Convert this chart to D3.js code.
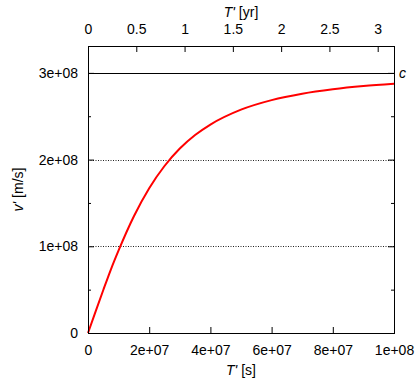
<!DOCTYPE html>
<html>
<head>
<meta charset="utf-8">
<script src="https://cdn.jsdelivr.net/npm/d3@7"></script>
<style>
  html, body { margin: 0; padding: 0; background: #fff; }
  text { font-family: "Liberation Sans", Arial, sans-serif; font-size: 14px; fill: #000; }
</style>
</head>
<body>
<div id="chart"></div>
<script>
// proper time T' [s] and velocity v' [m/s]
const tSec = [0, 0.25e7, 0.5e7, 0.75e7, 1e7, 1.5e7, 2e7, 2.5e7, 3e7, 3.5e7, 4e7, 5e7, 6e7, 7e7, 8e7, 9e7, 1e8];
const vel  = [0, 0.250e8, 0.496e8, 0.735e8, 0.953e8, 1.347e8, 1.670e8, 1.926e8, 2.127e8, 2.283e8, 2.404e8, 2.576e8, 2.686e8, 2.760e8, 2.811e8, 2.848e8, 2.875e8];
const cLight = 3e8;
const yearSec = 3.15576e7;

const xTicks = [0, 2e7, 4e7, 6e7, 8e7, 1e8];
const xTickLabels = ['0', '2e+07', '4e+07', '6e+07', '8e+07', '1e+08'];
const yrTicks = [0, 0.5, 1, 1.5, 2, 2.5, 3];
const yTicks = [0, 1e8, 2e8, 3e8];
const yTickLabels = ['0', '1e+08', '2e+08', '3e+08'];
const yMinor = [0.5e8, 1.5e8, 2.5e8];

const W = 417, H = 381;
const margin = { top: 46, right: 23, bottom: 48, left: 88 };
const width = W - margin.left - margin.right;
const height = H - margin.top - margin.bottom;

const svg = d3.select('#chart').append('svg')
    .attr('width', W)
    .attr('height', H);

const g = svg.append('g')
    .attr('transform', `translate(${margin.left},${margin.top})`);

const x = d3.scaleLinear().domain([0, 1e8]).range([0, width]);
const y = d3.scaleLinear().domain([0, 3.31e8]).range([height, 0]);
const xYr = d3.scaleLinear().domain([0, 1e8 / yearSec]).range([0, width]);

// dotted grid lines for y ticks
g.selectAll('.grid')
    .data(yTicks.filter(d => d > 0 && d < cLight))
    .enter().append('line')
    .attr('x1', 0).attr('x2', width)
    .attr('y1', d => Math.round(y(d)) + 0.5)
    .attr('y2', d => Math.round(y(d)) + 0.5)
    .attr('stroke', '#222')
    .attr('stroke-width', 1)
    .attr('stroke-dasharray', '1,1.5');

// speed of light line
g.append('line')
    .attr('x1', 0).attr('x2', width)
    .attr('y1', Math.round(y(cLight)) + 0.5)
    .attr('y2', Math.round(y(cLight)) + 0.5)
    .attr('stroke', '#000')
    .attr('stroke-width', 1);

g.append('text')
    .attr('x', width + 5)
    .attr('y', y(cLight) + 5)
    .style('font-style', 'italic')
    .text('c');

// curve
const line = d3.line()
    .x((d, i) => x(tSec[i]))
    .y(d => y(d))
    .curve(d3.curveMonotoneX);

g.append('path')
    .datum(vel)
    .attr('d', line)
    .attr('fill', 'none')
    .attr('stroke', '#ff0000')
    .attr('stroke-width', 2);

// bottom axis
const xAxis = d3.axisBottom(x)
    .tickValues(xTicks)
    .tickFormat((d, i) => xTickLabels[i])
    .tickSize(-6)
    .tickPadding(12);
const gx = g.append('g')
    .attr('transform', `translate(0,${height})`)
    .call(xAxis);

// top axis (years)
const x2Axis = d3.axisTop(xYr)
    .tickValues(yrTicks)
    .tickFormat(d3.format('~g'))
    .tickSize(-6)
    .tickPadding(12);
const gx2 = g.append('g')
    .call(x2Axis);

// left axis
const yAxis = d3.axisLeft(y)
    .tickValues(yTicks)
    .tickFormat((d, i) => yTickLabels[i])
    .tickSize(-6)
    .tickPadding(10);
const gy = g.append('g')
    .call(yAxis);

// right mirror ticks
const y2Axis = d3.axisRight(y)
    .tickValues(yTicks)
    .tickFormat('')
    .tickSize(-6);
const gy2 = g.append('g')
    .attr('transform', `translate(${width},0)`)
    .call(y2Axis);

// minor ticks
[gy, gy2].forEach((ax, k) => {
    ax.selectAll('.minor')
        .data(yMinor)
        .enter().append('line')
        .attr('x1', 0)
        .attr('x2', k === 0 ? 3 : -3)
        .attr('y1', d => y(d) + 0.5)
        .attr('y2', d => y(d) + 0.5)
        .attr('stroke', '#000');
});

[gx, gx2, gy, gy2].forEach(ax => {
    ax.select('.domain').remove();
    ax.selectAll('text').style('font-family', '"Liberation Sans", Arial, sans-serif').style('font-size', '14px').attr('fill', '#000');
});

// frame
g.append('rect')
    .attr('x', 0.5).attr('y', 0.5)
    .attr('width', width).attr('height', height)
    .attr('fill', 'none')
    .attr('stroke', '#000')
    .attr('stroke-width', 1);

// axis titles
const xTitle = svg.append('text')
    .attr('x', margin.left + width / 2)
    .attr('y', 375)
    .attr('text-anchor', 'middle');
xTitle.append('tspan').style('font-style', 'italic').text("T'");
xTitle.append('tspan').text(' [s]');

const x2Title = svg.append('text')
    .attr('x', margin.left + width / 2)
    .attr('y', 17)
    .attr('text-anchor', 'middle');
x2Title.append('tspan').style('font-style', 'italic').text("T'");
x2Title.append('tspan').text(' [yr]');

const yTitle = svg.append('text')
    .attr('transform', `translate(23,${margin.top + height / 2}) rotate(-90)`)
    .attr('text-anchor', 'middle');
yTitle.append('tspan').style('font-style', 'italic').text("v'");
yTitle.append('tspan').text(' [m/s]');
</script>
</body>
</html>
